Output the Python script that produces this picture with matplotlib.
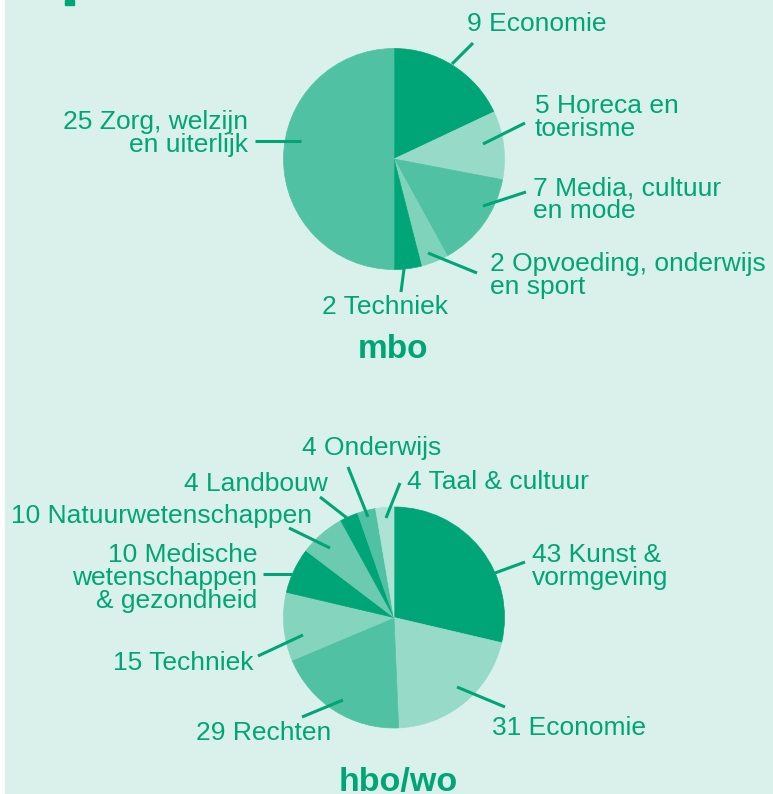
import matplotlib.pyplot as plt
from matplotlib.patches import Rectangle

W, H = 773, 794

# data (clockwise from 12 o'clock)
mbo_labels = ['9 Economie', '5 Horeca en\ntoerisme', '7 Media, cultuur\nen mode',
              '2 Opvoeding, onderwijs\nen sport', '2 Techniek', '25 Zorg, welzijn\nen uiterlijk']
mbo_values = [9, 5, 7, 2, 2, 25]
mbo_colors = ['#00a577', '#98dac8', '#50c2a3', '#7fd3bb', '#00a577', '#50c2a3']

hbo_labels = ['43 Kunst &\nvormgeving', '31 Economie', '29 Rechten', '15 Techniek',
              '10 Medische\nwetenschappen\n& gezondheid', '10 Natuurwetenschappen',
              '4 Landbouw', '4 Onderwijs', '4 Taal & cultuur']
hbo_values = [43, 31, 29, 15, 10, 10, 4, 4, 4]
hbo_colors = ['#00a577', '#98dac8', '#50c2a3', '#84d4be', '#00a577', '#6ccab0',
              '#00a577', '#50c2a3', '#ade3d4']

# layout in pixels (x, baseline of last line, alignment) and leader lines
mbo_text_pos = [(467, 31, 'left'), (535, 136, 'left'), (533, 218, 'left'),
                (490, 294, 'left'), (322, 314, 'left'), (248, 152, 'right')]
mbo_leaders = [((473, 43), (452, 64)), ((525, 123), (483, 144)), ((526, 192), (483, 206)),
               ((477, 273), (428, 253)), ((401, 292), (404, 269)), ((255, 141), (301, 141))]
hbo_text_pos = [(532, 585, 'left'), (492, 735, 'left'), (196, 740, 'left'), (113, 670, 'left'),
                (257, 608, 'right'), (11, 523, 'left'), (184, 491, 'left'), (302, 455, 'left'),
                (407, 489, 'left')]
hbo_leaders = [((525, 562), (495, 573)), ((505, 707), (457, 687)), ((302, 717), (343, 700)),
               ((258, 656), (303, 635)), ((263, 574), (292, 574)), ((289, 528), (330, 548)),
               ((320, 497), (347, 518)), ((348, 467), (368, 517)), ((400, 483), (386, 518))]

green = '#00a577'
bg = '#d9f1ea'
font = 'Liberation Sans'

fig = plt.figure(figsize=(W / 100, H / 100), dpi=100)
fig.patch.set_facecolor('white')
ax = fig.add_axes([0, 0, 1, 1])

ax.add_patch(Rectangle((5, 0), W - 5, H, color=bg, zorder=0))
ax.add_patch(Rectangle((65, 0), 9, 5, color=green, zorder=1))  # cut-off heading piece


def draw_pie(values, colors, center, labels, text_pos, leaders):
    # y axis is inverted, so counterclock in data = clockwise on screen
    wedges, _ = ax.pie(values, colors=colors, startangle=-90, counterclock=True,
                       center=center, radius=110.5)
    for w in wedges:
        w.set_edgecolor(w.get_facecolor())
        w.set_linewidth(0.5)
        w.set_zorder(2)
    for lab, (x, y, ha), (p1, p2) in zip(labels, text_pos, leaders):
        ax.text(x, y, lab, ha=ha, va='baseline', multialignment=ha, color=green,
                fontsize=19, family=font, linespacing=0.94, zorder=3)
        ax.plot([p1[0], p2[0]], [p1[1], p2[1]], color=green, lw=2.2,
                solid_capstyle='butt', zorder=3)


draw_pie(mbo_values, mbo_colors, (394, 159), mbo_labels, mbo_text_pos, mbo_leaders)
draw_pie(hbo_values, hbo_colors, (394, 617.5), hbo_labels, hbo_text_pos, hbo_leaders)

ax.text(393, 358, 'mbo', ha='center', va='baseline', color=green, fontsize=24,
        fontweight='bold', family=font)
ax.text(398, 791, 'hbo/wo', ha='center', va='baseline', color=green, fontsize=24.5,
        fontweight='bold', family=font)

ax.set_xlim(0, W)
ax.set_ylim(H, 0)
ax.set_aspect('auto')
ax.axis('off')

plt.savefig('out.png', dpi=100, facecolor=fig.get_facecolor())
